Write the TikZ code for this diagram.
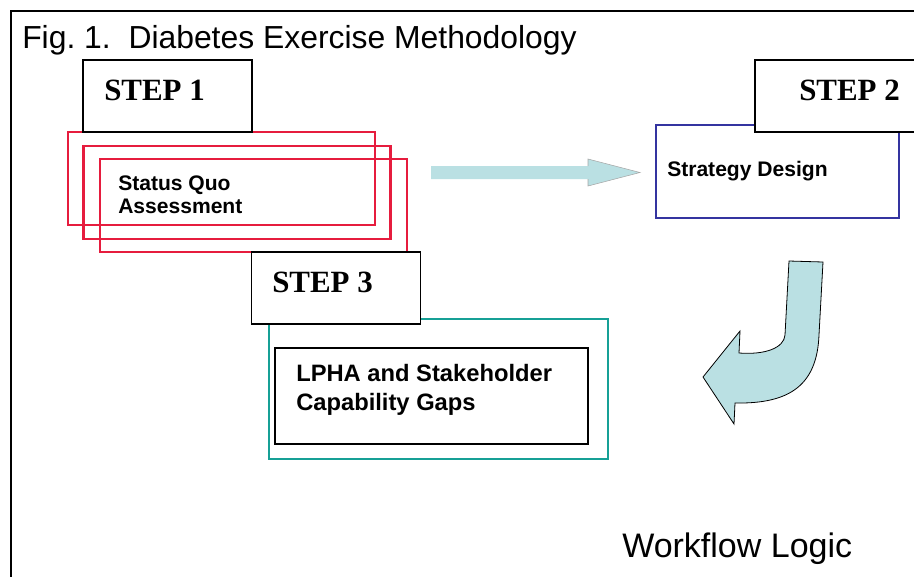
\documentclass[tikz,border=0pt]{standalone}
\usepackage{fontspec}
\setmainfont{Liberation Sans}
\newfontfamily\stepfont{Liberation Serif}
\definecolor{crim}{RGB}{230,28,62}
\definecolor{navyb}{RGB}{52,52,160}
\definecolor{tealb}{RGB}{22,160,150}
\definecolor{lblue}{RGB}{186,224,227}
\begin{document}
\begin{tikzpicture}[x=0.75pt,y=-0.75pt,
  box/.style={draw, line width=1.1pt, fill=white, inner sep=0pt, minimum width=126.5pt, minimum height=54pt},
  redbox/.style={draw=crim, line width=1.6pt, inner sep=0pt, minimum width=230.25pt, minimum height=69.75pt},
  steptext/.style={font=\stepfont\bfseries\fontsize{23.2}{26}\selectfont, inner sep=0pt, anchor=base west},
  bodytext/.style={font=\bfseries\fontsize{15.8}{17.25}\selectfont, inner sep=0pt, align=left}
]
\useasboundingbox (0,0) rectangle (914,576);
% frame
\draw[line width=1.5pt] (11,590) -- (11,11) -- (930,11);
% title
\node[inner sep=0pt, anchor=base west, font=\fontsize{23.9}{28}\selectfont] (title) at (22,48) {\frenchspacing Fig.\ 1.\ \ Diabetes Exercise Methodology};
% step 1 red stack
\node[redbox] (r1) at (221.5,178.5) {};
\node[redbox] (r2) at (237,192.5) {};
\node[redbox] (r3) at (253.5,205.5) {};
\node[box] (s1) at (167.5,96) {};
\node[steptext] (s1t) at (104,100) {STEP 1};
\node[bodytext, anchor=base west] (sq) at (118,213) {Status Quo\\Assessment};
% straight arrow
\fill[lblue] (431,166) -- (588,166) -- (588,159) -- (640,172.5) -- (588,186) -- (588,179) -- (431,179) -- cycle;
\draw[gray!70, line width=0.4pt] (588,166) -- (588,159) -- (640,172.5) -- (588,186) -- (588,179);
% step 2
\node[draw=navyb, line width=1.1pt, inner sep=0pt, minimum width=182.25pt, minimum height=69.75pt] (sd) at (777.5,171.5) {};
\node[box] (s2) at (839.5,96) {};
\node[steptext] (s2t) at (799,100) {STEP 2};
\node[bodytext, anchor=base west] (sdt) at (667,176) {Strategy Design};
% curved arrow
\draw[fill=lblue, line width=0.6pt]
  (789,261) -- (823,262) -- (819,335)
  .. controls (817,385) and (790,404) .. (735,403)
  -- (734,424) -- (703,377) -- (740,331) -- (739,353)
  .. controls (765,355) and (784,348) .. (785,335)
  -- cycle;
% step 3
\node[draw=tealb, line width=1.2pt, inner sep=0pt, minimum width=254.25pt, minimum height=105pt] (tb) at (438.5,389) {};
\node[box] (s3) at (336,288) {};
\node[steptext] (s3t) at (272,292) {STEP 3};
\node[draw, line width=1.1pt, inner sep=0pt, minimum width=234.75pt, minimum height=72pt] (ib) at (431.5,396) {};
\node[bodytext, anchor=base west, font=\bfseries\fontsize{17.8}{21.75}\selectfont] (lp) at (296,410) {LPHA and Stakeholder\\Capability Gaps};
% footer
\node[inner sep=0pt, anchor=base west, font=\fontsize{25.5}{30}\selectfont] (wl) at (622,557) {Workflow Logic};
\end{tikzpicture}
\end{document}
